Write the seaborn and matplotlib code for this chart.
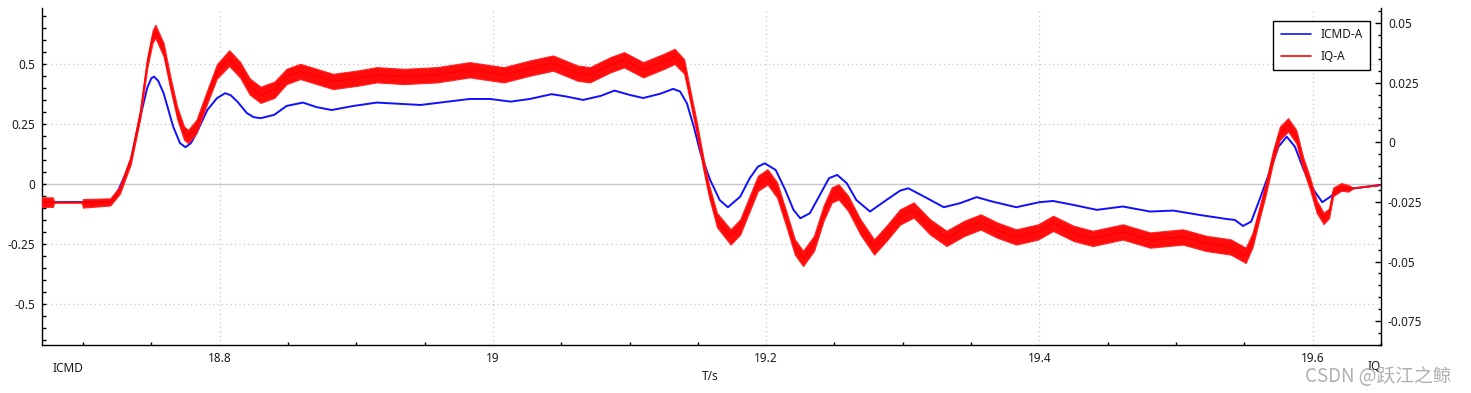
import numpy as np
import pandas as pd
import matplotlib
matplotlib.use("Agg")
import matplotlib.pyplot as plt
import seaborn as sns
from matplotlib.lines import Line2D
from matplotlib.ticker import MultipleLocator, FixedLocator, FixedFormatter

# ---------------- data ----------------
icmd_t = [18.670, 18.720, 18.724, 18.727, 18.731, 18.735, 18.742, 18.747, 18.750, 18.752, 18.755,
          18.759, 18.766, 18.771,
          18.775, 18.779, 18.783, 18.791, 18.798, 18.804, 18.808, 18.813, 18.820, 18.825, 18.830,
          18.840, 18.849,
          18.861, 18.871, 18.882, 18.898, 18.915, 18.947, 18.983, 18.998, 19.013, 19.027,
          19.043, 19.054, 19.066, 19.079, 19.089, 19.100, 19.110, 19.122, 19.132, 19.137,
          19.142, 19.147, 19.152, 19.159, 19.166, 19.172, 19.181, 19.188, 19.194, 19.199,
          19.207, 19.214, 19.220, 19.225, 19.232, 19.240, 19.246, 19.252, 19.259, 19.266,
          19.276, 19.288, 19.298, 19.304, 19.318, 19.330, 19.342, 19.354, 19.366, 19.383,
          19.400, 19.410, 19.425, 19.442, 19.461, 19.481, 19.498, 19.517, 19.537, 19.543,
          19.549, 19.555, 19.561, 19.569, 19.575, 19.581, 19.587, 19.593, 19.599, 19.607,
          19.613, 19.617, 19.627, 19.650]
icmd_a = [-0.076, -0.075, -0.050, -0.011, 0.040, 0.100, 0.280, 0.400, 0.440, 0.447, 0.430,
          0.378, 0.239, 0.170,
          0.153, 0.170, 0.211, 0.308, 0.357, 0.378, 0.370, 0.343, 0.295, 0.278, 0.274,
          0.288, 0.325,
          0.339, 0.320, 0.308, 0.325, 0.339, 0.329, 0.354, 0.354, 0.343, 0.354,
          0.374, 0.364, 0.350, 0.367, 0.389, 0.371, 0.358, 0.375, 0.396, 0.385,
          0.336, 0.239, 0.128, 0.017, -0.067, -0.097, -0.053, 0.024, 0.072, 0.086,
          0.058, -0.025, -0.108, -0.143, -0.122, -0.039, 0.024, 0.0375, 0.003, -0.067,
          -0.115, -0.067, -0.028, -0.018, -0.060, -0.097, -0.080, -0.055, -0.074, -0.097,
          -0.076, -0.071, -0.0875, -0.108, -0.094, -0.115, -0.111, -0.129, -0.146, -0.150,
          -0.175, -0.157, -0.067, 0.058, 0.155, 0.197, 0.155, 0.065, -0.011, -0.076,
          -0.053, -0.032, -0.021, -0.004]

iq_t = [18.670, 18.678, 18.679, 18.699, 18.700, 18.720, 18.727, 18.735, 18.742, 18.747,
        18.751, 18.753, 18.759, 18.764, 18.769, 18.774, 18.777, 18.783, 18.791, 18.798,
        18.807, 18.815, 18.822, 18.830, 18.840, 18.849, 18.859, 18.871, 18.883, 18.901,
        18.915, 18.935, 18.959, 18.983, 19.008, 19.027, 19.044, 19.062, 19.071, 19.086,
        19.096, 19.110, 19.125, 19.133, 19.140, 19.144, 19.149, 19.154, 19.158, 19.164,
        19.174, 19.181, 19.188, 19.194, 19.201, 19.208, 19.215, 19.221, 19.227, 19.235,
        19.242, 19.248, 19.253, 19.260, 19.269, 19.279, 19.288, 19.298, 19.308, 19.320,
        19.332, 19.345, 19.357, 19.369, 19.383, 19.399, 19.410, 19.425, 19.439, 19.461,
        19.481, 19.505, 19.522, 19.540, 19.551, 19.556, 19.561, 19.566, 19.571, 19.576,
        19.582, 19.588, 19.593, 19.598, 19.603, 19.608, 19.612, 19.615, 19.621, 19.626,
        19.630, 19.649]
iq_a = [-0.0251, -0.0251, -0.0252, -0.0252, -0.0256, -0.0250, -0.0200, -0.0074, 0.0122, 0.0332,
        0.0444, 0.0465, 0.0388, 0.0248, 0.0122, 0.0038, 0.0024, 0.0066, 0.0192, 0.0297,
        0.0353, 0.0304, 0.0234, 0.0199, 0.0220, 0.0276, 0.0297, 0.0276, 0.0255, 0.0269,
        0.0283, 0.0276, 0.0283, 0.0304, 0.0283, 0.0311, 0.0332, 0.0290, 0.0283, 0.0325,
        0.0346, 0.0304, 0.0339, 0.0360, 0.0318, 0.0206, 0.0066, -0.0088, -0.0200, -0.0326,
        -0.0397, -0.0355, -0.0256, -0.0172, -0.0145, -0.0200, -0.0326, -0.0439, -0.0487, -0.0424,
        -0.0298, -0.0221, -0.0208, -0.0256, -0.0355, -0.0439, -0.0382, -0.0313, -0.0284, -0.0355,
        -0.0403, -0.0361, -0.0334, -0.0368, -0.0397, -0.0376, -0.0340, -0.0382, -0.0403, -0.0376,
        -0.0410, -0.0397, -0.0424, -0.0439, -0.0474, -0.0410, -0.0298, -0.0187, -0.0060, 0.0038,
        0.0073, 0.0024, -0.0088, -0.0172, -0.0271, -0.0319, -0.0298, -0.0208, -0.0187, -0.0193,
        -0.0192, -0.0179]
# half-width of the noise band around the IQ trace (right-axis units)
iq_noise = [0.0020, 0.0020, 0.0, 0.0, 0.0018, 0.0015, 0.0016, 0.0018, 0.0020, 0.0022,
            0.0026, 0.0028, 0.0028, 0.0026, 0.0026, 0.0028, 0.0028, 0.0028, 0.0028, 0.0030,
            0.0033, 0.0033, 0.0034, 0.0034, 0.0034, 0.0032, 0.0032, 0.0032, 0.0032, 0.0032,
            0.0032, 0.0032, 0.0032, 0.0032, 0.0032, 0.0032, 0.0032, 0.0032, 0.0032, 0.0032,
            0.0032, 0.0032, 0.0032, 0.0032, 0.0030, 0.0026, 0.0026, 0.0026, 0.0026, 0.0030,
            0.0032, 0.0032, 0.0032, 0.0032, 0.0032, 0.0032, 0.0032, 0.0032, 0.0032, 0.0032,
            0.0032, 0.0032, 0.0032, 0.0032, 0.0032, 0.0032, 0.0032, 0.0032, 0.0032, 0.0032,
            0.0032, 0.0032, 0.0032, 0.0032, 0.0032, 0.0032, 0.0032, 0.0032, 0.0032, 0.0032,
            0.0032, 0.0032, 0.0032, 0.0032, 0.0032, 0.0030, 0.0026, 0.0026, 0.0026, 0.0028,
            0.0028, 0.0028, 0.0026, 0.0026, 0.0026, 0.0024, 0.0020, 0.0018, 0.0016, 0.0014,
            0.0, 0.0]

x_ticks = [18.8, 19.0, 19.2, 19.4, 19.6]
x_tick_labels = ["18.8", "19", "19.2", "19.4", "19.6"]
left_ticks = [-0.5, -0.25, 0.0, 0.25, 0.5]
left_tick_labels = ["-0.5", "-0.25", "0", "0.25", "0.5"]
right_ticks = [-0.075, -0.05, -0.025, 0.0, 0.025, 0.05]
right_tick_labels = ["-0.075", "-0.05", "-0.025", "0", "0.025", "0.05"]
series_names = ["ICMD-A", "IQ-A"]

# ---------------- figure ----------------
sns.set_theme(style="white")
plt.rcParams["font.family"] = ["Noto Sans", "DejaVu Sans"]

W, H = 1471, 393
fig = plt.figure(figsize=(W / 100, H / 100), dpi=100)
L, R, T, B = 42, 1381, 8, 345
ax = fig.add_axes([L / W, 1 - B / H, (R - L) / W, (B - T) / H])
ax2 = ax.twinx()

grid_c = "#c8c8c8"
ax.set_xlim(18.670, 19.650)
ax.set_ylim(-0.671, 0.733)
ax2.set_ylim(-0.0850, 0.0563)

# grid
for xv in x_ticks:
    ax.axvline(xv, color=grid_c, lw=0.9, ls=(0, (1, 2.5)), zorder=0)
for yv in left_ticks:
    if yv == 0:
        ax.axhline(yv, color=grid_c, lw=1.0, zorder=0)
    else:
        ax.axhline(yv, color=grid_c, lw=0.9, ls=(0, (1, 2.5)), zorder=0)

df_icmd = pd.DataFrame({"t": icmd_t, "v": icmd_a})
df_iq = pd.DataFrame({"t": iq_t, "v": iq_a, "n": iq_noise})

sns.lineplot(data=df_icmd, x="t", y="v", ax=ax, color="#1010ff", lw=1.4,
             estimator=None, sort=False, legend=False, zorder=3)

ax2.fill_between(df_iq["t"], df_iq["v"] - df_iq["n"], df_iq["v"] + df_iq["n"],
                 color="#ff0000", lw=0.8, edgecolor="#ff2020", alpha=0.95, zorder=2)
sns.lineplot(data=df_iq, x="t", y="v", ax=ax2, color="#ff0000", lw=1.1, alpha=0.85,
             estimator=None, sort=False, legend=False, zorder=3)

# axes styling
for a in (ax, ax2):
    a.set_xlabel("")
    a.set_ylabel("")
    a.spines["top"].set_visible(False)
    for s in ("left", "right", "bottom"):
        a.spines[s].set_color("black")
        a.spines[s].set_linewidth(1.0)
ax.spines["right"].set_visible(False)
ax2.spines["left"].set_visible(False)
ax2.spines["bottom"].set_visible(False)

ax.xaxis.set_major_locator(FixedLocator(x_ticks))
ax.xaxis.set_major_formatter(FixedFormatter(x_tick_labels))
ax.xaxis.set_minor_locator(MultipleLocator(0.05))
ax.yaxis.set_major_locator(FixedLocator(left_ticks))
ax.yaxis.set_major_formatter(FixedFormatter(left_tick_labels))
ax.yaxis.set_minor_locator(MultipleLocator(0.05))
ax2.yaxis.set_major_locator(FixedLocator(right_ticks))
ax2.yaxis.set_major_formatter(FixedFormatter(right_tick_labels))
ax2.yaxis.set_minor_locator(MultipleLocator(0.005))

tick_c = "#1a1a1a"
fs = 8.5
ax.tick_params(axis="x", which="major", direction="in", length=4, width=1, pad=5,
               labelsize=fs, colors="black", labelcolor=tick_c)
ax.tick_params(axis="x", which="minor", direction="in", length=2.5, width=1, colors="black",
               bottom=True)
ax.tick_params(axis="y", which="major", direction="in", length=3, width=1, pad=5,
               labelsize=fs, colors="black", labelcolor=tick_c, left=True)
ax.tick_params(axis="y", which="minor", direction="in", length=3, width=1, colors="black",
               left=True)
ax2.tick_params(axis="y", which="major", direction="in", length=4, width=1, pad=5,
                labelsize=fs, colors="black", labelcolor=tick_c, right=True)
ax2.tick_params(axis="y", which="minor", direction="in", length=2, width=1, colors="black",
                right=True)

# legend
handles = [Line2D([], [], color="#1010ff", lw=1.2), Line2D([], [], color="#ff0000", lw=1.2)]
leg = ax2.legend(handles, series_names, loc="upper right",
                 bbox_to_anchor=(1370 / W, 1 - 21 / H), bbox_transform=fig.transFigure,
                 borderaxespad=0, fancybox=False, frameon=True, fontsize=8.5,
                 handlelength=2.6, handletextpad=0.8, labelspacing=0.75,
                 borderpad=0.6)
leg.get_frame().set_edgecolor("black")
leg.get_frame().set_linewidth(1.0)
leg.get_frame().set_alpha(1)
for txt in leg.get_texts():
    txt.set_color(tick_c)

# axis titles
fig.text(52 / W, 1 - 368 / H, "ICMD", fontsize=fs, color=tick_c, ha="left", va="center")
fig.text(710 / W, 1 - 376 / H, "T/s", fontsize=fs, color=tick_c, ha="center", va="center")
fig.text(1374 / W, 1 - 367 / H, "IQ", fontsize=fs, color=tick_c, ha="center", va="center")

# watermark
fig.text(1305 / W, 1 - 377 / H, "CSDN @跃江之鲸", fontsize=13.5, color="#a8a8a8",
         ha="left", va="center", family=["Noto Sans CJK SC", "DejaVu Sans"], alpha=0.9)

fig.savefig("out.png", dpi=100)
